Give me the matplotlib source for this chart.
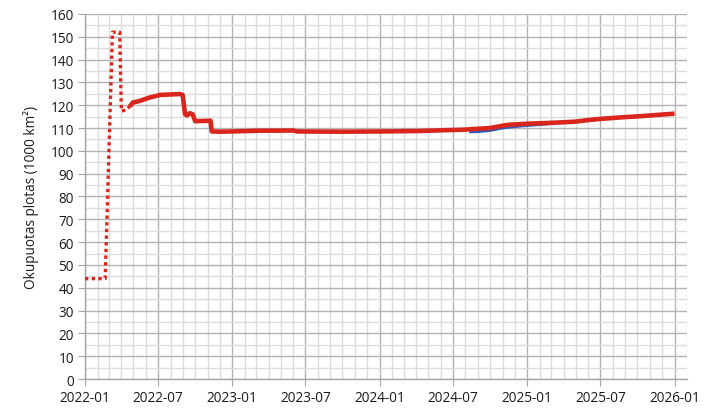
import matplotlib
matplotlib.use("Agg")
import matplotlib.pyplot as plt
import matplotlib.dates as mdates
import pandas as pd

plt.rcParams["font.family"] = ["Open Sans", "DejaVu Sans"]

# early period, drawn dotted
early_dates = ["2022-01-01", "2022-02-20", "2022-03-10", "2022-03-28",
               "2022-04-01", "2022-04-12", "2022-04-22"]
early_vals = [44, 44, 152, 152, 117.5, 117.8, 119.5]

# main series (red)
red_dates = ["2022-04-22", "2022-04-30", "2022-05-15", "2022-06-11", "2022-07-06",
             "2022-08-24", "2022-08-31", "2022-09-06", "2022-09-11", "2022-09-18",
             "2022-09-25", "2022-10-01", "2022-11-08", "2022-11-11", "2022-12-01",
             "2023-01-01", "2023-03-01", "2023-06-01", "2023-06-10", "2023-10-01",
             "2024-01-01", "2024-04-10", "2024-06-01", "2024-08-01", "2024-08-25",
             "2024-10-01", "2024-10-25", "2024-11-15", "2025-01-01", "2025-03-06",
             "2025-05-01", "2025-06-01", "2025-07-01", "2025-08-01", "2025-09-01",
             "2025-10-01", "2025-11-01", "2025-12-01", "2026-01-01"]
red_vals = [119.5, 121.2, 121.8, 123.4, 124.5,
            124.9, 124.5, 116.0, 115.5, 116.5,
            116.0, 113.0, 113.2, 108.5, 108.4,
            108.5, 108.8, 108.9, 108.5, 108.4,
            108.5, 108.7, 109.0, 109.3, 109.6,
            110.0, 110.8, 111.4, 111.9, 112.3,
            112.8, 113.5, 114.0, 114.4, 114.8,
            115.1, 115.5, 115.9, 116.3]

# second series (blue), mostly hidden under red
blue_dates = ["2024-08-10", "2024-09-01", "2024-10-01", "2024-11-01",
              "2024-12-01", "2025-01-01", "2025-02-01", "2025-03-06"]
blue_vals = [108.6, 108.7, 109.2, 110.3, 110.9, 111.4, 111.8, 112.3]

red = "#d9261c"
blue = "#2a5cbf"

fig = plt.figure(figsize=(7.12, 4.14), dpi=100)
ax = fig.add_axes([0.1194, 0.0821, 0.8455, 0.8818])

ax.plot(pd.to_datetime(blue_dates), blue_vals, color=blue, lw=3.0,
        solid_capstyle="butt", zorder=3)
ax.plot(pd.to_datetime(early_dates), early_vals, color=red, lw=2.4,
        linestyle=(0, (1, 1)), dash_capstyle="butt", zorder=4)
ax.plot(pd.to_datetime(red_dates), red_vals, color=red, lw=3.3,
        solid_capstyle="butt", zorder=4)

ax.set_xlim(pd.Timestamp("2022-01-01"), pd.Timestamp("2026-02-01"))
ax.set_ylim(0, 160)
ax.set_yticks(range(0, 161, 10))
ax.set_yticks(range(0, 161, 5), minor=True)
ax.xaxis.set_major_locator(mdates.MonthLocator(bymonth=[1, 7]))
ax.xaxis.set_major_formatter(mdates.DateFormatter("%Y-%m"))
ax.xaxis.set_minor_locator(mdates.MonthLocator())

ax.grid(which="major", color="#b3b3b3", lw=1.0)
ax.grid(which="minor", color="#dcdcdc", lw=1.0)
ax.set_axisbelow(True)

for s in ["top", "right"]:
    ax.spines[s].set_visible(False)
for s in ["left", "bottom"]:
    ax.spines[s].set_color("#a6a6a6")
    ax.spines[s].set_linewidth(1.0)
ax.tick_params(which="major", length=5, color="#a6a6a6", labelsize=9.8,
               labelcolor="#1a1a1a", pad=3)
ax.tick_params(which="minor", length=0)

ax.set_ylabel("Okupuotas plotas (1000 km²)", fontsize=9.8, color="#1a1a1a",
              labelpad=8)

fig.savefig("out.png", dpi=100)
